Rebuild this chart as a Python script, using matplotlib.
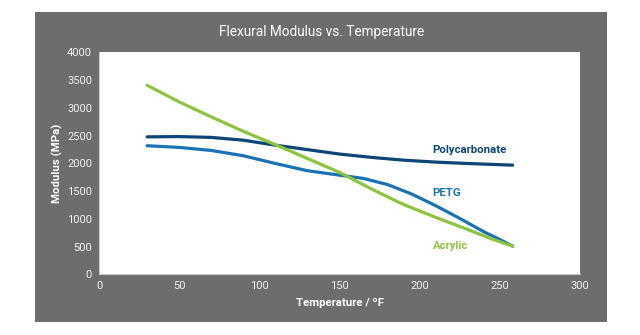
import matplotlib.pyplot as plt
from matplotlib.patches import Rectangle

plt.rcParams['font.family'] = ['Roboto', 'DejaVu Sans']

# flexural modulus (MPa) against temperature (°F)
pc_temp = [30, 50, 70, 90, 110, 130, 150, 170, 190, 210, 230, 258]
pc_mod = [2480, 2485, 2470, 2420, 2330, 2250, 2170, 2110, 2060, 2025, 2000, 1970]

petg_temp = [30, 50, 70, 90, 110, 130, 150, 165, 180, 195, 210, 225, 240, 250, 258]
petg_mod = [2320, 2290, 2235, 2140, 2000, 1870, 1790, 1730, 1620, 1450, 1240, 1010,
            770, 630, 510]

acr_temp = [30, 50, 70, 90, 113, 130, 150, 170, 190, 210, 230, 245, 258]
acr_mod = [3410, 3110, 2840, 2580, 2303, 2090, 1840, 1540, 1260, 1030, 810, 640, 510]

series_names = ['Polycarbonate', 'PETG', 'Acrylic']
series_colors = ['#0b4677', '#1872b3', '#8cc43e']
label_pos = [(208, 2243), (208, 1468), (208, 513)]

x_ticks = [0, 50, 100, 150, 200, 250, 300]
y_ticks = [0, 500, 1000, 1500, 2000, 2500, 3000, 3500, 4000]

fig = plt.figure(figsize=(6.4, 3.35), dpi=100)
fig.patch.set_facecolor('white')
fig.patches.append(Rectangle((0.0547, 0.0388), 0.8937, 0.9254,
                             transform=fig.transFigure, facecolor='#6d6d6d',
                             edgecolor='none', zorder=-1))

ax = fig.add_axes([0.1547, 0.1806, 0.7516, 0.6627])
ax.set_zorder(1)
ax.set_facecolor('white')

data = [(pc_temp, pc_mod), (petg_temp, petg_mod), (acr_temp, acr_mod)]
for (t, m), name, col, (lx, ly) in zip(data, series_names, series_colors, label_pos):
    ax.plot(t, m, color=col, lw=2.3, solid_capstyle='round', solid_joinstyle='round')
    ax.text(lx, ly, name, color=col, fontsize=8.2, fontweight='bold',
            ha='left', va='center')

ax.set_xlim(0, 300)
ax.set_ylim(0, 4000)
ax.set_xticks(x_ticks)
ax.set_yticks(y_ticks)
ax.tick_params(length=0, colors='#f2f2f2', labelsize=8, pad=5)
for side in ['top', 'right']:
    ax.spines[side].set_visible(False)
for side in ['left', 'bottom']:
    ax.spines[side].set_color('#c8c8c8')
    ax.spines[side].set_linewidth(0.8)

ax.set_xlabel('Temperature / ºF', color='white', fontsize=8.2,
              fontweight='bold', labelpad=5)
ax.set_ylabel('Modulus (MPa)', color='white', fontsize=8.2,
              fontweight='bold', labelpad=3)

fig.text(0.502, 0.905, 'Flexural Modulus vs. Temperature', color='white',
         fontsize=9.8, ha='center', va='center')

fig.savefig('out.png', dpi=100, facecolor=fig.get_facecolor())
